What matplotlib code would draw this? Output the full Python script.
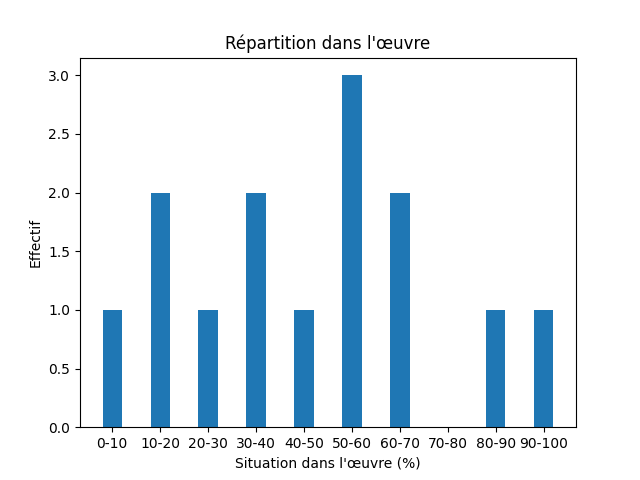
import matplotlib
matplotlib.use("Agg")
import matplotlib.pyplot as plt

# Tranches de position dans l'oeuvre et effectifs
categories = ["0-10", "10-20", "20-30", "30-40", "40-50",
              "50-60", "60-70", "70-80", "80-90", "90-100"]
effectifs = [1, 2, 1, 2, 1, 3, 2, 0, 1, 1]

fig, ax = plt.subplots(figsize=(6.4, 4.8), dpi=100)
ax.bar(range(len(categories)), effectifs, width=0.4, color="#1f77b4")
ax.set_xticks(range(len(categories)))
ax.set_xticklabels(categories)
ax.set_xlabel("Situation dans l'œuvre (%)")
ax.set_ylabel("Effectif")
ax.set_title("Répartition dans l'œuvre")

plt.savefig("out.png", dpi=100)
plt.close()
